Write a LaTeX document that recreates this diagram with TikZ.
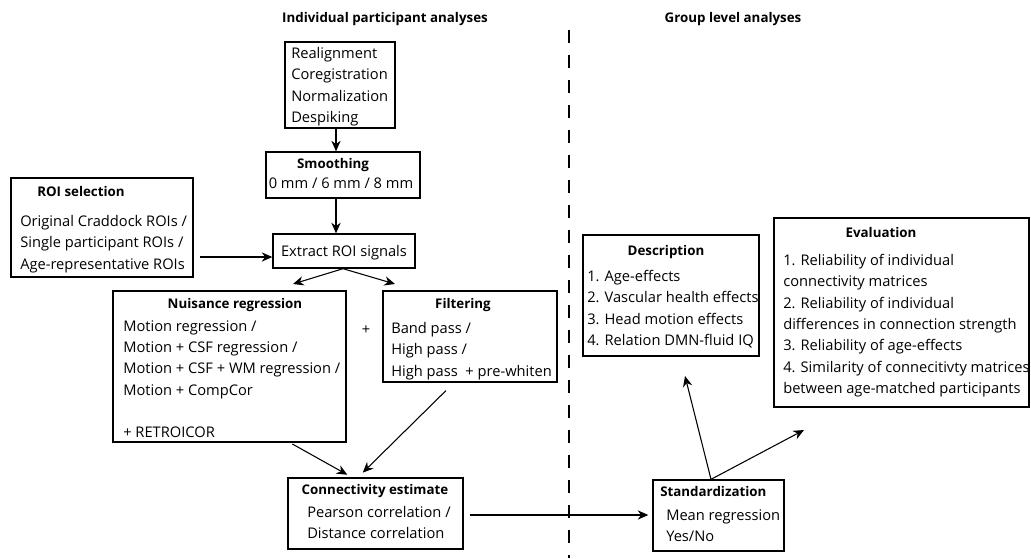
\documentclass[tikz,border=0pt]{standalone}
\usepackage{fontspec}
\setmainfont{Open Sans}
\usetikzlibrary{arrows.meta,fit}

\tikzset{
  box/.style={draw, line width=1pt, inner sep=0pt, fit={#1}},
  txt/.style={anchor=north west, inner sep=0pt, align=left},
  ttl/.style={anchor=north, inner sep=0pt, font=\bfseries},
  arr/.style={-{Stealth[length=8pt,width=7pt]}, line width=0.8pt},
}

\begin{document}
\begin{tikzpicture}[x=0.75pt,y=0.75pt,yscale=-1,font=\fontsize{11}{16}\selectfont]
\useasboundingbox (0,0) rectangle (1031,558);

% headings and the split between the two halves
\node[ttl] (indiv) at (385,12) {Individual participant analyses};
\node[ttl] (group) at (733,12) {Group level analyses};
\draw[line width=0.8pt, dash pattern=on 9.75pt off 9pt] (569,30) -- (569,558);

% boxes
\node[box={(285,42) (395,128)}] (pre) {};
\node[box={(266,152) (420,198)}] (smooth) {};
\node[box={(273,234) (415,268)}] (extract) {};
\node[box={(11,178) (193,277)}] (roi) {};
\node[box={(113,291) (346,442)}] (nuis) {};
\node[box={(383,291) (557,382)}] (filt) {};
\node[box={(288,478) (463,549)}] (conn) {};
\node[box={(653,480) (784,551)}] (stand) {};
\node[box={(583,235) (759,356)}] (desc) {};
\node[box={(774,218) (1029,407)}] (eval) {};

% texts
\node[txt] (pretxt) at (291,47) {Realignment\\Coregistration\\Normalization\\Despiking};
\node[ttl] (smttl) at (333,158) {Smoothing};
\node[txt, anchor=north] (smtxt) at (341,178) {0 mm / 6 mm / 8 mm};
\node[txt, anchor=north] (extxt) at (344,245) {Extract ROI signals};
\node[ttl] (roittl) at (81,186) {ROI selection};
\node[txt] (roitxt) at (20,215) {Original Craddock ROIs /\\Single participant ROIs /\\Age-representative ROIs};
\node[ttl] (nuisttl) at (235,298) {Nuisance regression};
\node[txt] (nuistxt) at (123,320) {Motion regression /\\Motion + CSF regression /\\Motion + CSF + WM regression /\\Motion + CompCor\\[16pt]+ RETROICOR};
\node[inner sep=0pt] (plus) at (366,330) {+};
\node[ttl] (filtttl) at (463,298) {Filtering};
\node[txt] (filttxt) at (391,322) {Band pass /\\High pass /\\High pass \ + pre-whiten};
\node[ttl] (connttl) at (375,484) {Connectivity estimate};
\node[txt] (conntxt) at (307,506) {Pearson correlation /\\Distance correlation};
\node[ttl, anchor=north west] (standttl) at (660,486) {Standardization};
\node[txt] (standtxt) at (666,509) {Mean regression\\Yes/No};
\node[ttl] (descttl) at (666,245) {Description};
\node[txt] (desctxt) at (587,270) {1. Age-effects\\2. Vascular health effects\\3. Head motion effects\\4. Relation DMN-fluid IQ};
\node[ttl] (evalttl) at (881,227) {Evaluation};
\node[txt] (evaltxt) at (783,254) {1. Reliability of individual\\connectivity matrices\\2. Reliability of individual\\differences in connection strength\\3. Reliability of age-effects\\4. Similarity of connecitivty matrices\\between age-matched participants};

% free arrow ends
\coordinate (nuisin) at (293,284);
\coordinate (filtin) at (395,284);
\coordinate (descin) at (685,376);
\coordinate (evalin) at (804,430);

% arrows
\draw[arr] (336,0 |- pre.south) -- (336,0 |- smooth.north);
\draw[arr] (336,0 |- smooth.south) -- (336,0 |- extract.north);
\draw[arr, shorten <=4.5pt] (roi.east |- 0,257) -- (extract.west |- 0,257);
\draw[arr] (343,0 |- extract.south) -- (nuisin);
\draw[arr] (343,0 |- extract.south) -- (filtin);
\draw[arr, shorten <=2pt, shorten >=4pt] (290,0 |- nuis.south) -- (352,0 |- conn.north);
\draw[arr, shorten <=8.5pt, shorten >=5pt] (454,0 |- filt.south) -- (358,0 |- conn.north);
\draw[arr, shorten <=4.5pt, shorten >=3pt] (conn.east |- 0,515) -- (stand.west |- 0,515);
\draw[arr] (711,0 |- stand.north) -- (descin);
\draw[arr] (711,0 |- stand.north) -- (evalin);
\end{tikzpicture}
\end{document}
